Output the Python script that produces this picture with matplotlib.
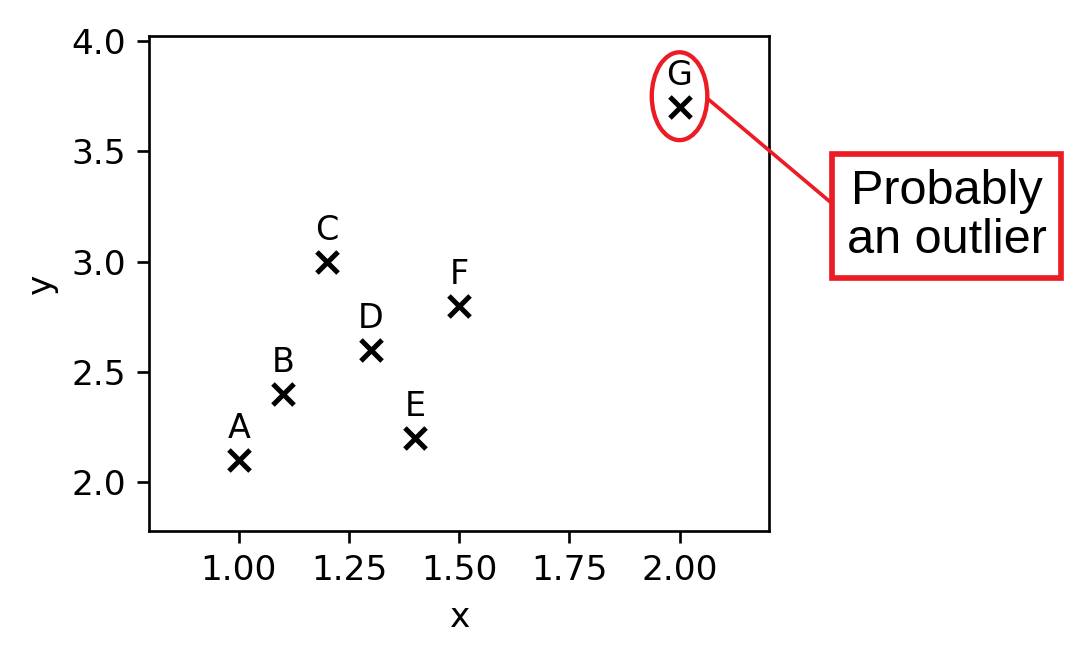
import matplotlib
matplotlib.use('Agg')
import matplotlib.pyplot as plt
from matplotlib.patches import Ellipse

# data points
labels = ['A', 'B', 'C', 'D', 'E', 'F', 'G']
xs = [1.0, 1.1, 1.2, 1.3, 1.4, 1.5, 2.0]
ys = [2.1, 2.4, 3.0, 2.6, 2.2, 2.8, 3.7]

outlier_idx = 6
outlier_text = 'Probably\nan outlier'
red = '#ec1c24'

dpi = 240
fig = plt.figure(figsize=(1090 / dpi, 654 / dpi), dpi=dpi)
ax = fig.add_axes([0.137, 0.188, 0.5685, 0.7574])

ax.scatter(xs, ys, marker='x', c='k', s=40, linewidths=1.5, zorder=3)
for lab, x, y in zip(labels, xs, ys):
    ax.annotate(lab, (x, y), xytext=(0, 4.5), textcoords='offset points',
                ha='center', va='bottom', fontsize=10)

ax.set_xlim(0.797, 2.203)
ax.set_ylim(1.78, 4.024)
ax.set_xticks([1.0, 1.25, 1.5, 1.75, 2.0])
ax.set_yticks([2.0, 2.5, 3.0, 3.5, 4.0])
ax.tick_params(labelsize=10.3)
ax.set_xlabel('x', fontsize=10.3)
ax.set_ylabel('y', fontsize=10.3)

# red ellipse around the outlier and a callout box
gx, gy = xs[outlier_idx], ys[outlier_idx]
ell_w, ell_h = 0.126, 0.398
ell = Ellipse((gx, gy + 0.05), ell_w, ell_h, fill=False, ec=red, lw=1.3,
              clip_on=False, zorder=4)
ax.add_patch(ell)

ax.annotate(outlier_text, xy=(gx + ell_w / 2, gy + 0.04), xycoords='data',
            xytext=(0.8685, 0.670), textcoords='figure fraction',
            ha='center', va='center', fontsize=14.6, family='Liberation Sans',
            linespacing=1.12,
            bbox=dict(boxstyle='square,pad=0.3', fc='white', ec=red, lw=1.7),
            arrowprops=dict(arrowstyle='-', color=red, lw=1.1,
                            relpos=(0, 0.5), shrinkA=0, shrinkB=0),
            annotation_clip=False)

fig.savefig('out.png', dpi=dpi)
